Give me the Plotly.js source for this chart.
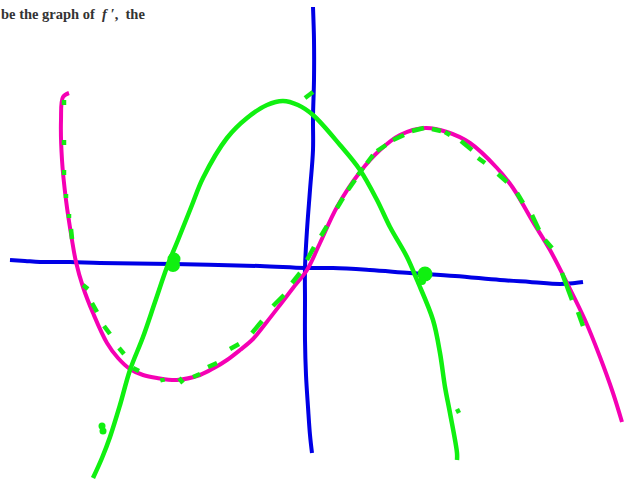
<!DOCTYPE html>
<html><head><meta charset="utf-8">
<script src="https://cdn.plot.ly/plotly-3.0.1.min.js"></script>
<style>html,body{margin:0;padding:0;background:#fff}</style></head>
<body><div id="c" style="width:625px;height:482px"></div>
<script>
var blueXx=[10,25,40,70,100,173,260,305,333,370,410,455,500,530,560,575,583];
var blueXy=[260,261,262,262,263,264,266,268,268,270,273,276,280,282,284,283,282];
var blueYx=[313,314,314,313,313,310,307,305,305,305,306,308,310,312];
var blueYy=[7,40,80,117,150,190,230,268,300,340,375,407,435,453];
var greenX=[93,102,110,120,130,143,155,167,178,192,203,227,247,267,283,298,313,340,360,377,390,407,417,433,440,445,450,457,457];
var greenY=[478,458,437,405,370,337,302,267,240,205,178,138,118,105,101,105,115,145,170,200,227,257,280,320,353,387,413,453,460];
var pinkX=[69,63,61,62,66,72,76,83,93,107,118,130,143,157,177,200,214,227,240,253,266,280,293,307,320,337,360,380,400,425,447,470,497,513,533,550,567,585,600,613,622];
var pinkY=[93,97,120,160,200,240,262,287,313,343,358,369,375,378,380,375,368,360,350,339,323,305,288,270,243,207,172,150,135,128,132,143,168,188,222,250,283,320,357,393,422];
var dashX=[64,64,null,64,64,null,64,64,null,66,66,null,69,69,null,71,72,null,83,88,null,92,97,null,104,110,null,119,124,null,133,139,null,162,163,null,179,183,null,193,200,null,208,217,null,230,239,null,252,262,null,273,284,null,292,300,null,307,314,null,305,313,null,321,327,null,337,343,null,348,355,null,358,363,null,367,373,null,377,386,null,393,404,null,412,424,null,432,441,null,445,450,null,461,472,null,478,485,null,498,507,null,517,523,null,532,539,null,545,552,null,562,572,null,578,583,null,456,460];
var dashY=[100,105,null,140,145,null,170,175,null,194,198,null,214,218,null,229,239,null,285,289,null,303,312,null,326,334,null,348,354,null,368,371,null,378,382,null,378,383,null,377,374,null,367,363,null,349,344,null,333,321,null,306,295,null,283,273,null,260,247,null,98,92,null,236,226,null,208,198,null,190,180,null,175,168,null,163,155,null,151,145,null,140,135,null,131,128,null,129,131,null,132,135,null,141,150,null,158,163,null,174,182,null,193,203,null,215,230,null,240,248,null,273,300,null,312,326,null,412,410];
var blobX=[174,173,425,422,102,103];
var blobY=[259,265,274,281,426,431];
var blobS=[13,14,15,8,7,7];
function line(x,y,color,w,name){return {x:x,y:y,mode:'lines',name:name,line:{color:color,width:w,shape:'spline',smoothing:1},hoverinfo:'skip'};}
var dash=line(dashX,dashY,'#14ea14',4.5,'dashes');dash.line.shape='linear';dash.connectgaps=false;
var data=[line(blueXx,blueXy,'#0000e6',4,'x axis'),line(blueYx,blueYy,'#0000e6',4,'y axis'),
line(pinkX,pinkY,'#f500b4',4,'f prime'),line(greenX,greenY,'#10f010',4.5,'f'),dash,
{x:blobX,y:blobY,mode:'markers',name:'blobs',marker:{color:'#10f010',opacity:1,size:blobS,line:{width:0}},hoverinfo:'skip'}];
var layout={width:625,height:482,margin:{l:0,r:0,t:0,b:0},paper_bgcolor:'#fff',plot_bgcolor:'#fff',showlegend:false,
xaxis:{range:[0,625],visible:false,fixedrange:true},yaxis:{range:[482,0],visible:false,fixedrange:true},
annotations:[{x:0,y:14,xref:'x',yref:'y',xshift:-1,xanchor:'left',yanchor:'middle',showarrow:false,align:'left',
text:'<b>be the graph of  <i>f \u2032</i>,  the</b>',font:{family:'Liberation Serif, serif',size:14.5,color:'#333'}}]};
Plotly.newPlot('c',data,layout,{displayModeBar:false,staticPlot:true});
</script></body></html>
